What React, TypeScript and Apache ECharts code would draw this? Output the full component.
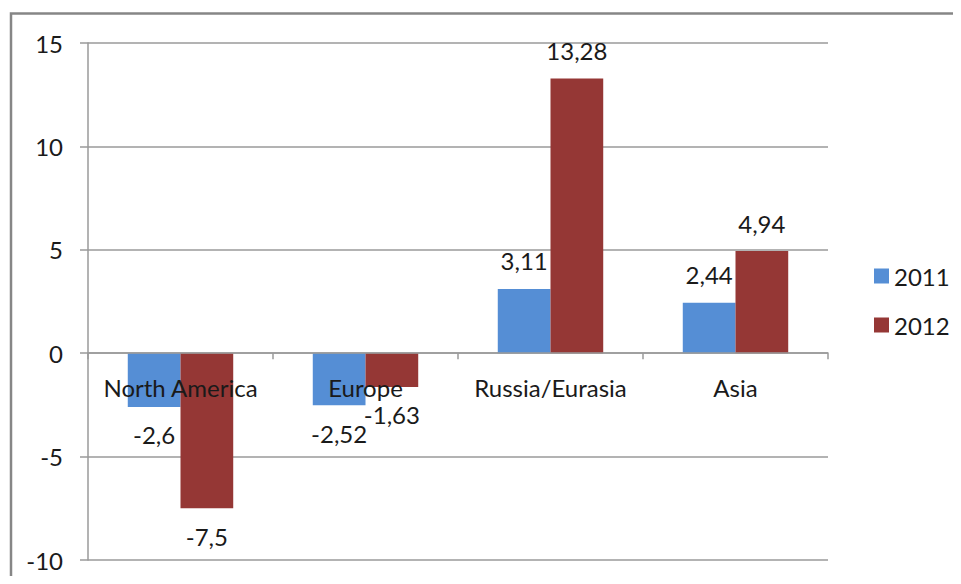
import React, { useEffect, useRef } from "react";
import * as echarts from "echarts";

const categories = ["North America", "Europe", "Russia/Eurasia", "Asia"];
const series2011 = [-2.6, -2.52, 3.11, 2.44];
const series2012 = [-7.5, -1.63, 13.28, 4.94];
const seriesNames = ["2011", "2012"];
const colors = ["#558ED5", "#953735"];
const yMin = -10;
const yMax = 15;

const FONT = "Lato";
const FS = 24;
const GRID = { left: 88, right: 133, top: 43, bottom: 24 };
const H = 584;

function toData(vals: number[]) {
  return vals.map((v) => ({
    value: v,
    label: { position: v < 0 ? "bottom" : "top" },
  }));
}

export default function App() {
  const ref = useRef<HTMLDivElement>(null);
  useEffect(() => {
    if (!ref.current) return;
    const chart = echarts.init(ref.current, undefined, { renderer: "svg" });
    const plotH = H - GRID.top - GRID.bottom;
    const zeroOffset = -((0 - yMin) / (yMax - yMin)) * plotH;
    const labelCfg = {
      show: true,
      distance: 16,
      color: "#1a1a1a",
      fontFamily: FONT,
      fontSize: FS,
      formatter: (p: any) => String(p.value).replace(".", ","),
    };
    chart.setOption({
      animation: false,
      backgroundColor: "#ffffff",
      textStyle: { fontFamily: FONT },
      graphic: [
        {
          type: "rect",
          shape: { x: 11, y: 13.5, width: 1200, height: 1200 },
          style: { fill: "none", stroke: "#868686", lineWidth: 2.5 },
          silent: true,
        },
      ],
      grid: { ...GRID, containLabel: false, outerBoundsMode: "none" },
      legend: {
        orient: "vertical",
        left: 869,
        top: 259,
        itemWidth: 15,
        itemHeight: 15,
        itemGap: 25,
        icon: "rect",
        textStyle: { fontFamily: FONT, fontSize: FS, color: "#1a1a1a" },
        data: seriesNames,
      },
      xAxis: {
        type: "category",
        data: categories,
        z: 10,
        position: "bottom",
        offset: zeroOffset,
        axisLine: { onZero: false, lineStyle: { color: "#9a9a9a", width: 1.5 } },
        axisTick: { show: true, length: 6, lineStyle: { color: "#9a9a9a", width: 1.5 } },
        axisLabel: {
          margin: 22,
          color: "#1a1a1a",
          fontFamily: FONT,
          fontSize: FS,
          interval: 0,
        },
      },
      yAxis: {
        type: "value",
        min: yMin,
        max: yMax,
        interval: 5,
        axisLine: { show: true, lineStyle: { color: "#9a9a9a", width: 1.5 } },
        axisTick: { show: true, length: 8, lineStyle: { color: "#9a9a9a", width: 1.5 } },
        axisLabel: {
          margin: 25,
          color: "#1a1a1a",
          fontFamily: FONT,
          fontSize: FS,
        },
        splitLine: { show: true, lineStyle: { color: "#9a9a9a", width: 1.5 } },
      },
      series: [
        {
          name: seriesNames[0],
          type: "bar",
          data: toData(series2011),
          itemStyle: { color: colors[0] },
          barGap: "0%",
          barCategoryGap: "43%",
          label: labelCfg,
        },
        {
          name: seriesNames[1],
          type: "bar",
          data: toData(series2012),
          itemStyle: { color: colors[1] },
          barGap: "0%",
          barCategoryGap: "43%",
          label: labelCfg,
        },
      ],
    });
    return () => chart.dispose();
  }, []);
  return <div ref={ref} style={{ width: 961, height: H, margin: -8 }} />;
}
